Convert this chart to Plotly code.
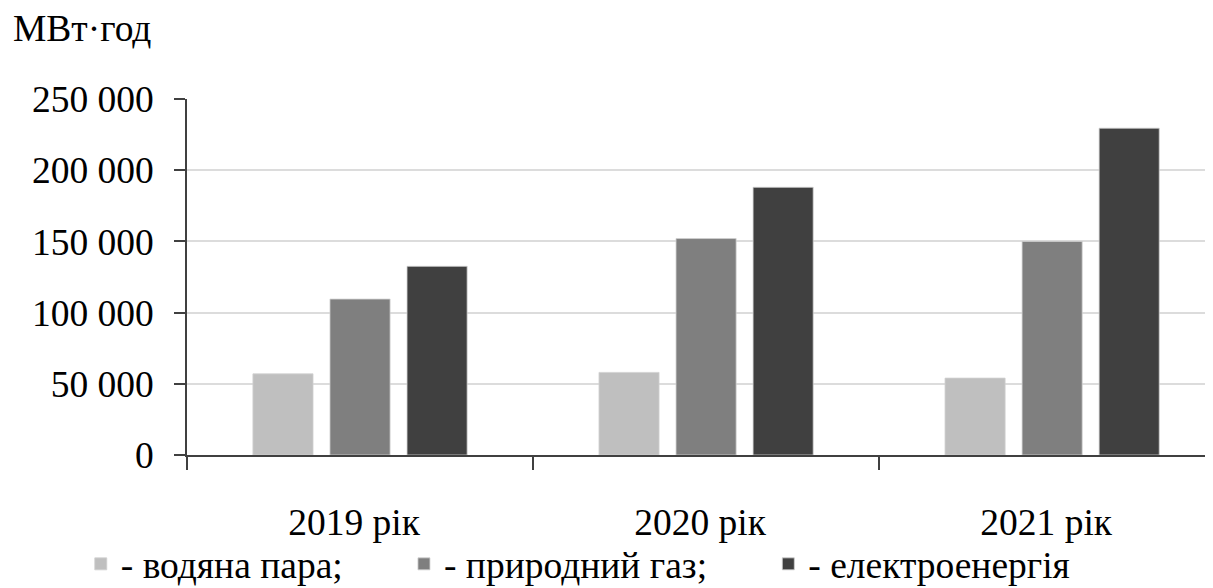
import plotly.graph_objects as go

categories = ["2019 рік", "2020 рік", "2021 рік"]
series_names = ["- водяна пара;", "- природний газ;", "- електроенергія"]
steam = [57000, 58000, 54000]
gas = [109500, 152000, 150000]
electricity = [132500, 188000, 229500]
colors = ["#bfbfbf", "#7f7f7f", "#404040"]
y_ticks = [0, 50000, 100000, 150000, 200000, 250000]

FONT = "Liberation Serif"
FS = 37.5
NB = "\u00a0" * 6
xpos = list(range(len(categories)))

fig = go.Figure()
for i, (name, vals, col) in enumerate(zip(series_names, [steam, gas, electricity], colors)):
    pad = NB if i < len(series_names) - 1 else ""
    fig.add_trace(go.Bar(
        x=xpos, y=vals, name=name + pad,
        marker=dict(color=col, line=dict(color="#d0d0d0", width=0.8)),
    ))

fig.update_layout(
    width=1213, height=580,
    margin=dict(l=179, r=0, t=91, b=133, pad=0, autoexpand=False),
    paper_bgcolor="white", plot_bgcolor="white",
    barmode="group", bargap=0.332, bargroupgap=0.22,
    separators=". ",
    font=dict(family=FONT, size=FS, color="black"),
    showlegend=True,
    legend=dict(
        orientation="h", xref="container", yref="container",
        x=0.06, xanchor="left", y=0.0414, yanchor="middle",
        font=dict(family=FONT, size=FS, color="black"),
        itemwidth=30, tracegroupgap=0, bgcolor="rgba(0,0,0,0)",
    ),
    annotations=[dict(
        text="МВт·год", xref="paper", yref="paper", x=-0.1706, y=1.197,
        xanchor="left", yanchor="middle", showarrow=False,
        font=dict(family=FONT, size=FS, color="black"),
    )],
)

fig.update_xaxes(
    automargin=False,
    range=[-0.5, 2.488], tickmode="array", tickvals=xpos, ticktext=categories,
    ticks="", ticklabelstandoff=33, ticklabelshift=-6,
    showline=True, linecolor="#404040", linewidth=1.5, showgrid=False, zeroline=False,
    minor=dict(tickmode="array", tickvals=[-0.5, 0.5, 1.5], ticks="outside",
               ticklen=13, tickcolor="#404040", tickwidth=1.5, showgrid=False),
    tickfont=dict(family=FONT, size=FS, color="black"),
)
fig.update_yaxes(
    automargin=False,
    range=[0, 250000], tickmode="array", tickvals=y_ticks, tickformat=",d",
    ticks="outside", ticklen=11, tickcolor="#404040", tickwidth=1.5,
    ticklabelstandoff=13,
    showline=True, linecolor="#404040", linewidth=1.5,
    showgrid=True, gridcolor="#dcdcdc", gridwidth=1.5, zeroline=False,
    tickfont=dict(family=FONT, size=FS, color="black"),
)

fig.write_html("out.html")
